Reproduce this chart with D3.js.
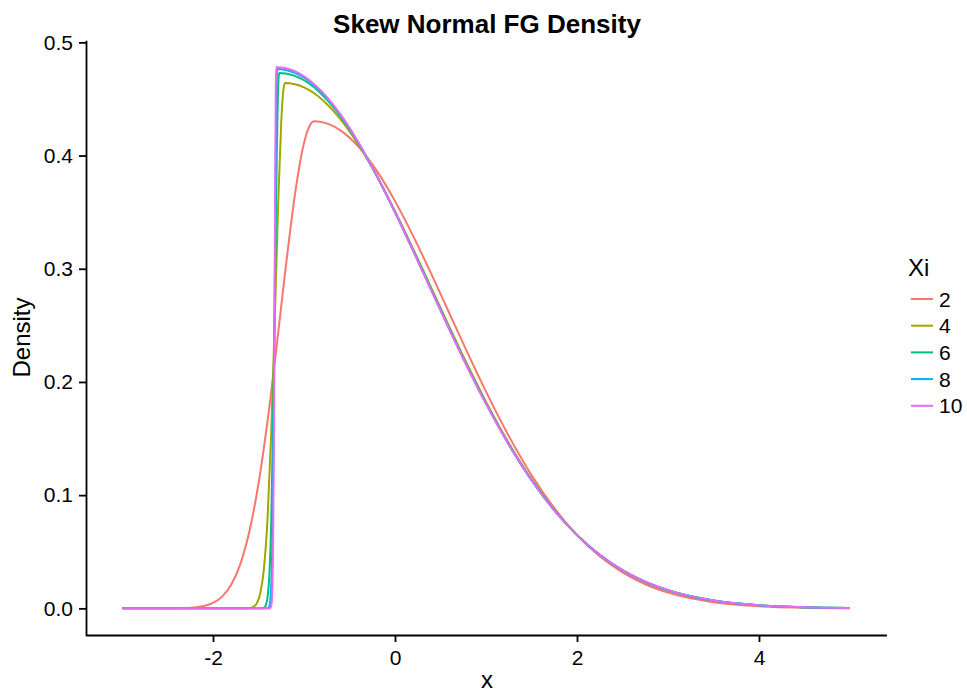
<!doctype html>
<html lang="en">
  <head>
    <meta charset="utf-8">
    <script src="https://cdn.jsdelivr.net/npm/d3@7/dist/d3.min.js"></script>
    <style>
      body {margin:0; background:#fff}
      svg {display:block}
      text {font-family:"Liberation Sans", Arial, Helvetica, sans-serif; fill:#000}
      .curve {fill:none; stroke-width:2}
    </style>
    <title>Skew Normal FG Density</title>
  </head>
  <body>
    <script>
      // values, [x, density]
      let xiLevels = ["2", "4", "6", "8", "10"];
      let xiColors = ["#F8766D", "#A3A500", "#00BF7D", "#00B0F6", "#E76BF3"];

      let xi2 = [[-3,0],[-2.6,0.00001],[-2.4,0.00011],[-2.2,0.00082],[-2.1,0.00206],[-2.0,0.00479],[-1.9,0.01038],
        [-1.8,0.02088],[-1.7,0.0391],[-1.6,0.06805],[-1.5,0.11013],[-1.4,0.16576],[-1.3,0.23196],[-1.2,0.30186],
        [-1.1,0.36527],[-1.0,0.41101],[-0.95,0.42426],[-0.888,0.43028],[-0.8,0.42953],[-0.6,0.42226],[-0.4,0.40764],
        [-0.2,0.38644],[0,0.35974],[0.2,0.32886],[0.4,0.29521],[0.6,0.26023],[0.8,0.22526],[1.0,0.19148],[1.25,0.15234],
        [1.5,0.11781],[1.75,0.08856],[2.0,0.06471],[2.25,0.04595],[2.5,0.03172],[2.75,0.02128],[3.0,0.01388],
        [3.5,0.00542],[4.0,0.00189],[4.5,0.00059],[5.0,0.00017]];

      let xi4 = [[-3,0],[-1.7,0],[-1.65,0.00004],[-1.6,0.00028],[-1.56,0.00118],[-1.52,0.00429],[-1.48,0.01331],
        [-1.44,0.03532],[-1.4,0.08015],[-1.36,0.15555],[-1.32,0.25813],[-1.28,0.36636],[-1.25,0.42992],[-1.23,0.45548],
        [-1.21,0.46406],[-1.1,0.46298],[-1.0,0.46015],[-0.8,0.44937],[-0.6,0.43219],[-0.4,0.40936],[-0.2,0.38186],
        [0,0.35081],[0.2,0.3174],[0.4,0.28282],[0.6,0.24818],[0.8,0.21449],[1.0,0.18256],[1.25,0.14608],[1.5,0.11412],
        [1.75,0.08705],[2.0,0.06485],[2.25,0.04716],[2.5,0.03349],[2.75,0.02322],[3.0,0.01573],[3.5,0.00671],
        [4.0,0.0026],[4.5,0.00092],[5.0,0.00029]];

      let xi6 = [[-3,0],[-1.5,0],[-1.46,0.00011],[-1.44,0.00058],[-1.42,0.00264],[-1.4,0.00984],[-1.38,0.03031],
        [-1.36,0.07699],[-1.34,0.16133],[-1.32,0.27883],[-1.3,0.3976],[-1.29,0.44171],[-1.28,0.46768],[-1.273,0.47302],
        [-1.2,0.47255],[-1.0,0.46652],[-0.8,0.45377],[-0.6,0.43487],[-0.4,0.4106],[-0.2,0.38198],[0,0.35011],
        [0.2,0.31619],[0.4,0.28132],[0.6,0.24662],[0.8,0.21301],[1.0,0.18127],[1.25,0.14511],[1.5,0.11348],
        [1.75,0.08672],[2.0,0.06475],[2.25,0.04723],[2.5,0.03366],[2.75,0.02344],[3.0,0.01595],[3.5,0.00689],
        [4.0,0.00271],[4.5,0.00097],[5.0,0.00032]];

      let xi8 = [[-3,0],[-1.42,0],[-1.4,0.00012],[-1.38,0.00211],[-1.37,0.00703],[-1.36,0.02013],[-1.35,0.04956],
        [-1.34,0.10495],[-1.33,0.19118],[-1.32,0.29957],[-1.31,0.40379],[-1.3,0.46814],[-1.295,0.4764],[-1.2,0.47561],
        [-1.0,0.46883],[-0.8,0.4554],[-0.6,0.43589],[-0.4,0.41113],[-0.2,0.38211],[0,0.34995],[0.2,0.31583],
        [0.4,0.28086],[0.6,0.24613],[0.8,0.21253],[1.0,0.18085],[1.25,0.14478],[1.5,0.11326],[1.75,0.08659],
        [2.0,0.0647],[2.25,0.04724],[2.5,0.03371],[2.75,0.02351],[3.0,0.01603],[3.5,0.00695],[4.0,0.00275],
        [4.5,0.00099],[5.0,0.00033]];

      let xi10 = [[-3,0],[-1.4,0],[-1.38,0.00002],[-1.36,0.00204],[-1.35,0.01255],[-1.34,0.05348],[-1.33,0.158],
        [-1.32,0.32373],[-1.31,0.45993],[-1.305,0.47802],[-1.2,0.47705],[-1.0,0.46993],[-0.8,0.45618],[-0.6,0.4364],
        [-0.4,0.4114],[-0.2,0.3822],[0,0.34991],[0.2,0.31569],[0.4,0.28067],[0.6,0.24592],[0.8,0.21233],[1.0,0.18066],
        [1.25,0.14464],[1.5,0.11316],[1.75,0.08654],[2.0,0.06468],[2.25,0.04725],[2.5,0.03374],[2.75,0.02354],
        [3.0,0.01606],[3.5,0.00697],[4.0,0.00276],[4.5,0.001],[5.0,0.00033]];

      let xTicks = [-2, 0, 2, 4];
      let yTicks = [0, 0.1, 0.2, 0.3, 0.4, 0.5];

      let allSeries = [xi2, xi4, xi6, xi8, xi10];

      let w = 967, h = 694;

      let svg = d3.select("body").append("svg")
        .attr("width", w)
        .attr("height", h);

      // panel domain includes ggplot's 5% expansion
      let x = d3.scaleLinear().domain([-3.4, 5.4]).range([85.6, 886.4]);
      let y = d3.scaleLinear().domain([-0.0239, 0.5019]).range([635.4, 40.2]);

      let line = d3.line()
        .x(d => x(d[0]))
        .y(d => y(d[1]))
        .curve(d3.curveMonotoneX);

      svg.selectAll("path.curve")
        .data(allSeries)
        .enter()
        .append("path")
        .attr("class", "curve")
        .attr("stroke", (d, i) => xiColors[i])
        .attr("d", line);

      let xAxis = d3.axisBottom(x).tickValues(xTicks).tickFormat(d3.format("d")).tickSizeInner(7).tickSizeOuter(0).tickPadding(8);
      let yAxis = d3.axisLeft(y).tickValues(yTicks).tickFormat(d3.format(".1f")).tickSizeInner(7).tickSizeOuter(0).tickPadding(6);

      let gx = svg.append("g")
        .attr("id", "x-axis")
        .attr("transform", "translate(0," + 635 + ")")
        .call(xAxis);

      let gy = svg.append("g")
        .attr("id", "y-axis")
        .attr("transform", "translate(" + 86 + ",0)")
        .call(yAxis);

      [gx, gy].forEach(g => {
        g.attr("font-family", null).attr("font-size", null);
        g.selectAll(".domain").attr("stroke", "#000").attr("stroke-width", 1.8);
        g.selectAll(".tick line").attr("stroke", "#000").attr("stroke-width", 1.8);
        g.selectAll(".tick text").attr("fill", "#000").style("font-size", "21px");
      });
      // hyphen minus like the reference
      gx.selectAll(".tick text").text(d => String(d));

      svg.append("text")
        .attr("id", "title")
        .attr("x", 487)
        .attr("y", 33)
        .attr("text-anchor", "middle")
        .style("font-size", "26px")
        .style("font-weight", "bold")
        .text("Skew Normal FG Density");

      svg.append("text")
        .attr("x", 487)
        .attr("y", 688)
        .attr("text-anchor", "middle")
        .style("font-size", "24px")
        .text("x");

      svg.append("text")
        .attr("transform", "translate(30,337.5) rotate(-90)")
        .attr("text-anchor", "middle")
        .style("font-size", "24px")
        .text("Density");

      // legend
      let legend = svg.append("g").attr("transform", "translate(908,0)");
      legend.append("text")
        .attr("x", 0)
        .attr("y", 276)
        .style("font-size", "24px")
        .text("Xi");

      let item = legend.selectAll("g.item")
        .data(xiLevels)
        .enter()
        .append("g")
        .attr("class", "item")
        .attr("transform", (d, i) => "translate(0," + (299 + i * 26.7) + ")");

      item.append("line")
        .attr("x1", 3).attr("x2", 25)
        .attr("y1", 0).attr("y2", 0)
        .attr("stroke", (d, i) => xiColors[i])
        .attr("stroke-width", 2);

      item.append("text")
        .attr("x", 31)
        .attr("dy", "0.36em")
        .style("font-size", "21px")
        .text(d => d);
    </script>
  </body>
</html>
